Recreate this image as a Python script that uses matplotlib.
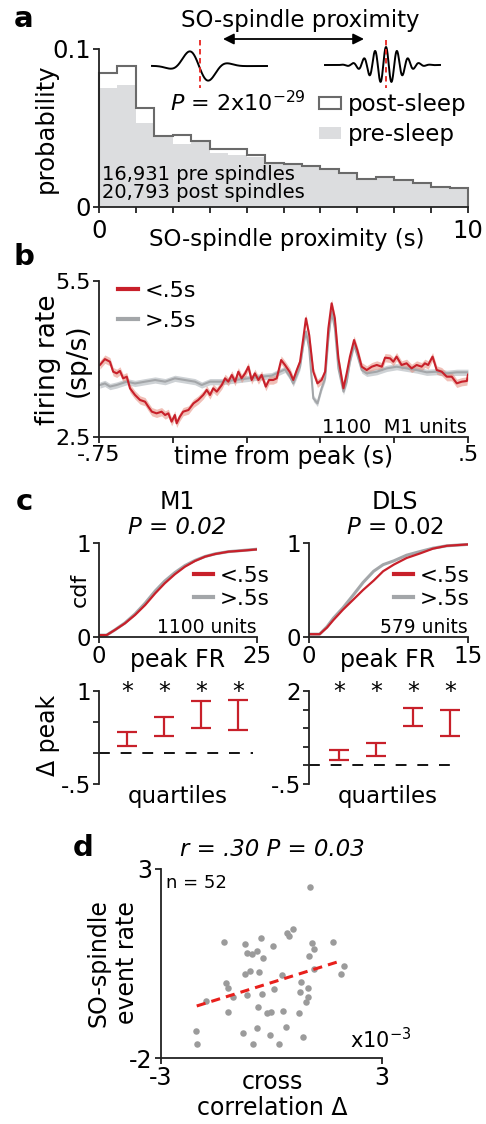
import numpy as np
import matplotlib
matplotlib.use("Agg")
import matplotlib.pyplot as plt
from matplotlib.lines import Line2D
from matplotlib.patches import Patch

plt.rcParams['font.family'] = ['DejaVu Sans']
plt.rcParams['mathtext.fontset'] = 'dejavusans'

# ---------------- data ----------------
# a: SO-spindle proximity histograms (0.5 s bins)
prox_edges = np.arange(0, 10.01, 0.5)
post_prob = [0.0847, 0.0890, 0.0625, 0.0449, 0.0455, 0.0420, 0.0365, 0.0365, 0.0329, 0.0280,
             0.0272, 0.0258, 0.0242, 0.0213, 0.0178, 0.0192, 0.0171, 0.0150, 0.0129, 0.0118]
pre_prob = [0.0752, 0.0773, 0.0530, 0.0445, 0.0400, 0.0420, 0.0340, 0.0330, 0.0316, 0.0275,
            0.0270, 0.0255, 0.0240, 0.0210, 0.0178, 0.0190, 0.0170, 0.0150, 0.0128, 0.0117]

# b: M1 firing rate around spindle peak
short_t = [-0.747, -0.730, -0.713, -0.702, -0.690, -0.679, -0.668, -0.656, -0.645, -0.628,
           -0.611, -0.594, -0.583, -0.571, -0.555, -0.538, -0.526, -0.515, -0.504, -0.493,
           -0.487, -0.476, -0.465, -0.447, -0.430, -0.414, -0.397, -0.385, -0.374, -0.363,
           -0.351, -0.334, -0.323, -0.312, -0.300, -0.289, -0.278, -0.267, -0.255, -0.244,
           -0.233, -0.222, -0.210, -0.199, -0.185, -0.174, -0.160, -0.148, -0.133, -0.120,
           -0.103, -0.092, -0.080, -0.069, -0.058, -0.049, -0.038, -0.024, -0.010, 0.004,
           0.016, 0.027, 0.038, 0.049, 0.061, 0.078, 0.089, 0.100, 0.114, 0.125,
           0.140, 0.157, 0.174, 0.191, 0.208, 0.219, 0.236, 0.247, 0.258, 0.275,
           0.292, 0.309, 0.326, 0.343, 0.354, 0.365, 0.380, 0.394, 0.411, 0.428,
           0.445, 0.462, 0.479, 0.496, 0.500]
short_fr = [3.885, 3.998, 3.948, 3.756, 3.724, 3.770, 3.628, 3.660, 3.436, 3.308,
            3.212, 3.179, 3.083, 2.987, 2.955, 2.987, 2.923, 2.955, 2.795, 2.923,
            2.763, 2.891, 2.987, 3.019, 3.147, 3.212, 3.308, 3.404, 3.308, 3.436,
            3.372, 3.500, 3.628, 3.564, 3.692, 3.564, 3.756, 3.628, 3.724, 3.852,
            3.596, 3.724, 3.596, 3.692, 3.468, 3.596, 3.596, 3.628, 3.980, 3.885,
            3.744, 3.596, 3.788, 3.948, 4.397, 4.782, 4.462, 3.756, 3.532, 3.596,
            3.756, 4.590, 5.071, 4.782, 4.013, 3.436, 3.724, 4.045, 4.365, 4.173,
            3.852, 3.788, 3.852, 3.885, 3.852, 4.026, 4.013, 3.948, 4.045, 3.885,
            3.917, 3.820, 3.885, 3.852, 3.917, 3.885, 4.045, 3.788, 3.756, 3.660,
            3.660, 3.532, 3.564, 3.577, 3.700]
long_t = [-0.747, -0.730, -0.713, -0.690, -0.656, -0.628, -0.594, -0.560, -0.526, -0.493,
          -0.459, -0.425, -0.402, -0.374, -0.334, -0.289, -0.244, -0.199, -0.165, -0.137,
          -0.120, -0.103, -0.092, -0.080, -0.069, -0.058, -0.049, -0.038, -0.024, -0.010,
          0.004, 0.016, 0.027, 0.038, 0.049, 0.061, 0.078, 0.089, 0.100, 0.114,
          0.125, 0.140, 0.157, 0.191, 0.225, 0.258, 0.292, 0.326, 0.360, 0.394,
          0.428, 0.462, 0.500]
long_fr = [3.50, 3.53, 3.47, 3.50, 3.564, 3.53, 3.564, 3.596, 3.564, 3.628,
           3.596, 3.564, 3.50, 3.564, 3.564, 3.596, 3.628, 3.66, 3.68, 3.756,
           3.80, 3.66, 3.53, 3.69, 3.85, 4.27, 4.526, 4.205, 3.243, 3.147,
           3.436, 3.628, 4.397, 4.91, 4.59, 3.82, 3.372, 3.564, 3.948, 4.269,
           4.077, 3.788, 3.724, 3.756, 3.82, 3.852, 3.82, 3.788, 3.744, 3.756,
           3.724, 3.744, 3.744]
short_sem = 0.08
long_sem = 0.06

# c: cumulative distributions of peak firing rate
m1_fr = [0, 1.2, 2.5, 4.1, 5.7, 7.3, 8.9, 10.4, 12.0, 13.6, 15.2, 16.8, 18.4, 20.5, 22.6, 25.0]
m1_cdf_short = [0.02, 0.02, 0.074, 0.145, 0.234, 0.34, 0.465, 0.571, 0.667, 0.748,
                0.809, 0.855, 0.883, 0.908, 0.918, 0.932]
m1_cdf_long = [0.02, 0.02, 0.075, 0.150, 0.245, 0.36, 0.490, 0.595, 0.685, 0.760,
               0.815, 0.857, 0.885, 0.908, 0.920, 0.934]
dls_fr = [0, 1.0, 1.7, 2.3, 3.2, 4.2, 5.1, 6.1, 7.0, 8.0, 9.2, 10.5, 11.7, 13.0, 15.0]
dls_cdf_short = [0.03, 0.03, 0.10, 0.18, 0.29, 0.40, 0.50, 0.60, 0.70, 0.77,
                 0.84, 0.89, 0.94, 0.97, 0.985]
dls_cdf_long = [0.03, 0.03, 0.11, 0.20, 0.31, 0.45, 0.58, 0.70, 0.77, 0.81,
                0.87, 0.91, 0.945, 0.97, 0.985]

# c (bottom): change in peak by firing-rate quartile (interval bounds)
quartiles = [1, 2, 3, 4]
m1_lo = [0.108, 0.269, 0.403, 0.376]
m1_hi = [0.339, 0.575, 0.833, 0.860]
dls_lo = [0.152, 0.26, 1.066, 0.78]
dls_hi = [0.403, 0.60, 1.54, 1.478]

# d: per-session cross-correlation change vs SO-spindle event rate
xcorr_delta = [1.046, -1.29, -0.719, -0.293, 0.049, 0.43, 0.475, 0.575, 1.09, 1.163,
               1.01, 1.679, -0.656, -0.537, -0.385, -0.222, 1.969, 1.887, 1.154, -0.719,
               -0.583, -0.339, 0.277, -1.235, -1.172, -1.054, -0.656, -0.266, 0.068, 0.793,
               0.774, 0.999, 0.999, 0.937, -1.778, -1.19, -0.358, -0.13, -0.021, 0.321,
               0.747, -2.05, -2.03, -0.782, -0.402, -0.04, 0.386, 0.864, -0.494, 0.212]
event_rate = [2.516, 1.06, 1.016, 1.166, 0.963, 1.315, 1.236, 1.405, 1.05, 0.876,
              0.706, 1.077, 0.785, 0.751, 0.838, 0.637, 0.434, 0.222, 0.347, 0.222,
              0.302, 0.283, 0.196, -0.024, -0.14, -0.378, -0.333, -0.315, -0.175, 0.002,
              -0.246, -0.156, -0.378, -0.527, -0.484, -0.775, -0.642, -0.802, -0.775, -0.749,
              -0.802, -1.278, -1.63, -1.331, -1.214, -1.392, -1.188, -1.437, -1.63, -1.63]
fit_slope = 0.305
fit_intercept = -0.005
fit_range = [-2.03, 1.81]

# ---------------- style ----------------
W, H = 486, 1124
INK = '#222222'
RED = '#c8202a'
RED_BAND = '#e58c7c'
GRAY = '#a3a6a9'
GRAY_BAND = '#c9cdd1'
PRE_FILL = '#dcdddf'
POST_EDGE = '#6a6a6a'
LW = 1.3

fig = plt.figure(figsize=(W / 100, H / 100), dpi=100)


def box(l, t, r, b):
    return fig.add_axes([l / W, 1 - b / H, (r - l) / W, (b - t) / H])


def label(x, y, s, **kw):
    kw.setdefault('ha', 'center')
    kw.setdefault('va', 'center')
    fig.text(x / W, 1 - y / H, s, **kw)


def style(ax, size=16):
    for side in ('top', 'right'):
        ax.spines[side].set_visible(False)
    for side in ('left', 'bottom'):
        ax.spines[side].set_linewidth(LW)
        ax.spines[side].set_color(INK)
    ax.tick_params(which='both', direction='out', length=4, width=LW, color=INK,
                   labelsize=size, pad=2)


def legend_at(ax, handles, labels, x, y, size, spacing, hlen=0.9, hheight=0.7):
    ax.legend(handles, labels, loc='upper left', frameon=False, fontsize=size,
              bbox_to_anchor=(x / W, 1 - y / H), bbox_transform=fig.transFigure,
              borderpad=0, borderaxespad=0, handlelength=hlen, handleheight=hheight,
              handletextpad=0.3, labelspacing=spacing)


# ---------------- a ----------------
axA = box(99, 49, 468, 207)
axA.stairs(pre_prob, prox_edges, fill=True, color=PRE_FILL, lw=0)
axA.stairs(post_prob, prox_edges, color=POST_EDGE, lw=1.5, clip_on=False)
axA.set_xlim(0, 10)
axA.set_ylim(0, 0.1)
style(axA, 17.5)
axA.set_xticks([0, 10], ['0', '10'])
axA.set_xticks(np.arange(1, 10), minor=True)
axA.set_yticks([0, 0.1], ['0', '0.1'])
axA.tick_params(axis='x', pad=5)
legend_at(axA, [Patch(facecolor='white', edgecolor=POST_EDGE, lw=1.5), Patch(facecolor=PRE_FILL, lw=0)],
          ['post-sleep', 'pre-sleep'], 319, 93, 16.5, 0.3, hlen=0.95, hheight=0.45)
label(46, 128, 'probability', rotation=90, fontsize=17.5)
label(287, 239, 'SO-spindle proximity (s)', fontsize=16.5)
label(102, 175, '16,931 pre spindles', ha='left', fontsize=14)
label(102, 193, '20,793 post spindles', ha='left', fontsize=14)
label(300, 21, 'SO-spindle proximity', fontsize=16.5)
label(170, 103, r'$P$ = 2x10$^{-29}$', ha='left', fontsize=16)
label(24, 19, 'a', fontsize=21, fontweight='bold')

# schematic waveforms (slow oscillation and spindle) above the histogram
ov = fig.add_axes([0, 0, 1, 1])
ov.set_xlim(0, W)
ov.set_ylim(H, 0)
ov.axis('off')
xs = np.linspace(152, 267, 300)
so = 18 * np.sin(2 * np.pi * (xs - 199) / 44) * np.exp(-((xs - 199) / 22) ** 2)
ov.plot(xs, 66 + so, color='k', lw=1.4)
xp = np.linspace(325, 440, 600)
sp = -18 * np.cos(2 * np.pi * (xp - 386) / 11) * np.exp(-((xp - 386) / 22) ** 2)
ov.plot(xp, 65 + sp, color='k', lw=1.4)
for xr in (200, 386):
    ov.plot([xr, xr], [40, 88], color='#e8231f', lw=1.3, ls=(0, (3, 2)))
ov.annotate('', xy=(364, 39), xytext=(223, 39),
            arrowprops=dict(arrowstyle='<|-|>', color='k', lw=1.3, mutation_scale=16,
                            shrinkA=0, shrinkB=0))

# ---------------- b ----------------
axB = box(99, 281, 468, 437)
lt, lf = np.array(long_t), np.array(long_fr)
st, sf = np.array(short_t), np.array(short_fr)
axB.fill_between(lt, lf - long_sem, lf + long_sem, color=GRAY_BAND, lw=0, alpha=0.9)
axB.plot(lt, lf, color=GRAY, lw=1.5)
axB.fill_between(st, sf - short_sem, sf + short_sem, color=RED_BAND, lw=0, alpha=0.55)
axB.plot(st, sf, color=RED, lw=1.5)
axB.set_xlim(-0.75, 0.5)
axB.set_ylim(2.5, 5.5)
style(axB, 16)
axB.set_xticks([-0.75, -0.5, -0.25, 0, 0.25, 0.5], ['-.75', '', '', '', '', '.5'])
axB.set_yticks([2.5, 5.5], ['2.5', '5.5'])
legend_at(axB, [Line2D([], [], color=RED, lw=3), Line2D([], [], color=GRAY, lw=3)],
          ['<.5s', '>.5s'], 118, 281, 16, 0.45)
label(467, 427, '1100  M1 units', ha='right', fontsize=14)
label(48, 360, 'firing rate', rotation=90, fontsize=19)
label(78, 360, '(sp/s)', rotation=90, fontsize=19)
label(284, 457, 'time from peak (s)', fontsize=17)
label(24, 257, 'b', fontsize=21, fontweight='bold')

# ---------------- c (cdf) ----------------
axC1 = box(99, 543, 257, 637)
axC2 = box(309, 543, 468, 637)
for ax, x, ys, yl, xmax, units, lx in (
        (axC1, m1_fr, m1_cdf_short, m1_cdf_long, 25, '1100 units', 194),
        (axC2, dls_fr, dls_cdf_short, dls_cdf_long, 15, '579 units', 394)):
    ax.plot(x, yl, color=GRAY, lw=2.2)
    ax.plot(x, ys, color=RED, lw=1.6)
    ax.set_xlim(0, xmax)
    ax.set_ylim(0, 1)
    style(ax, 16.5)
    ax.set_xticks([0, xmax], ['0', str(xmax)])
    ax.set_yticks([0, 1], ['0', '1'])
    legend_at(ax, [Line2D([], [], color=RED, lw=3), Line2D([], [], color=GRAY, lw=3)],
              ['<.5s', '>.5s'], lx, 566, 15.5, 0.12)
    ax.text(1.0, 0.1, units, transform=ax.transAxes, ha='right', va='center', fontsize=13.5)

label(80, 590, 'cdf', rotation=90, fontsize=16)
label(178, 660, 'peak FR', fontsize=17)
label(388, 660, 'peak FR', fontsize=17)
label(177, 502, 'M1', fontsize=17)
label(177, 528, 'P = 0.02', fontsize=16.5, style='italic')
label(395, 502, 'DLS', fontsize=17)
label(395, 528, r'$P$ = 0.02', fontsize=16.5)
label(24, 502, 'c', fontsize=21, fontweight='bold')

# ---------------- c (quartiles) ----------------
axQ1 = box(99, 691, 257, 784)
axQ2 = box(309, 691, 468, 784)
for ax, lo, hi, ymax, xl, dash_end in ((axQ1, m1_lo, m1_hi, 1, (0.243, 4.51), 4.4),
                                        (axQ2, dls_lo, dls_hi, 2, (0.19, 4.49), 4.2)):
    lo, hi = np.array(lo), np.array(hi)
    ax.errorbar(quartiles, (lo + hi) / 2, yerr=(hi - lo) / 2, fmt='none', ecolor=RED,
                elinewidth=1.6, capsize=7, capthick=1.6)
    ax.plot([xl[0], dash_end], [0, 0], color='k', lw=1.3, ls=(0, (6, 6)))
    for q in quartiles:
        ax.text(q, ymax * 0.985, '*', ha='center', va='center', fontsize=17)
    ax.set_xlim(*xl)
    ax.set_ylim(-0.5, ymax)
    style(ax, 16.5)
    ax.spines['bottom'].set_visible(False)
    ax.set_xticks([])
axQ1.set_yticks([-0.5, 0, 0.5, 1], ['-.5', '', '', '1'])
axQ2.set_yticks([-0.5, 0, 0.5, 1, 1.5, 2], ['-.5', '', '', '', '', '2'])
label(48, 735, 'Δ peak', rotation=90, fontsize=17)
label(178, 797, 'quartiles', fontsize=16.5)
label(388, 797, 'quartiles', fontsize=16.5)

# ---------------- d ----------------
axD = box(161, 869, 382, 1058)
axD.scatter(xcorr_delta, event_rate, s=22, color='#9b9b9b', lw=0, zorder=2)
fx = np.array(fit_range)
axD.plot(fx, fit_slope * fx + fit_intercept, color='#e8201c', lw=2.2, ls=(0, (3, 2)), zorder=3)
axD.set_xlim(-3, 3)
axD.set_ylim(-2, 3)
style(axD, 17)
axD.set_xticks([-3, 3], ['-3', '3'])
axD.set_yticks([-2, 3], ['-2', '3'])
label(166, 883, 'n = 52', ha='left', fontsize=13)
label(350, 1040, r'x10$^{-3}$', ha='left', fontsize=15)
label(272, 849, 'r = .30 P = 0.03', fontsize=16.5, style='italic')
label(98, 963, 'SO-spindle', rotation=90, fontsize=17)
label(127, 963, 'event rate', rotation=90, fontsize=17)
label(272, 1082, 'cross', fontsize=17)
label(272, 1108, 'correlation Δ', fontsize=17)
label(83, 848, 'd', fontsize=21, fontweight='bold')

fig.savefig('out.png', dpi=100)
